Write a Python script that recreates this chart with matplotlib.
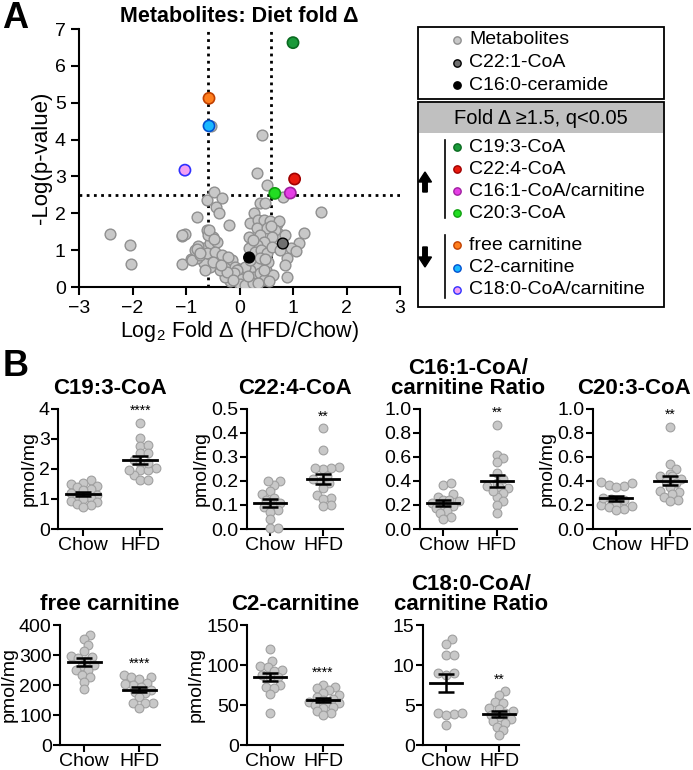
import matplotlib
matplotlib.use('Agg')
import matplotlib.pyplot as plt
import numpy as np
from matplotlib.patches import Rectangle, FancyArrow

plt.rcParams['font.family'] = ['Liberation Sans', 'DejaVu Sans']
plt.rcParams['mathtext.fontset'] = 'custom'
plt.rcParams['mathtext.rm'] = 'Liberation Sans'
plt.rcParams['axes.linewidth'] = 1.5

# ---------------- DATA ----------------
# volcano: background metabolites (log2 fold, -log p)
gray_x = [-2.42, -2.04, -2.02, -1.08, -1.02, -1.07, -0.90, -0.79, -0.60, -0.48,
          -0.33, -0.43, -0.38, -0.20, 0.42, 0.32, 0.52, 0.38, 0.47, 0.27,
          0.81, 1.52, 1.21, 1.12, 0.97, 1.05, 0.88, 0.85, 0.88, 0.70,
          0.74, 0.85, -0.53,
          0.45, 0.32, 0.20, 0.07, -0.05, 0.13, 0.28, 0.38, 0.50, 0.63,
          0.45, 0.20, 0.01, -0.18, -0.27, -0.36, -0.24, -0.14, -0.30, -0.42,
          -0.55, -0.67, -0.80, -0.89, -0.83, -0.67, -0.55, -0.49, -0.61, -0.58,
          -0.42, -0.74, -0.61, -0.46, -0.33, -0.21, -0.09, 0.01, 0.10, -1.08,
          0.20, 0.35, 0.45, 0.57, 0.73, 0.32, 0.51, 0.66, 0.17, 0.38,
          0.60, 0.45, 0.32, 0.17, 0.29, 0.41, 0.51, 0.60, 0.76, 0.20,
          0.38, 0.54, 0.26, 0.45, -0.05, -0.11, 0.04, -0.24, -0.49, -0.77,
          -0.57, -0.48, -0.79, -0.73, 0.00, 0.10, 0.25, 0.35, -0.12, 0.55,
          -0.65, -0.35, 0.15, 0.48, 0.58]
gray_y = [1.45, 1.13, 0.63, 1.39, 1.45, 0.63, 0.77, 1.90, 2.37, 2.58,
          2.41, 2.18, 2.00, 1.68, 4.12, 3.09, 2.77, 2.28, 2.28, 2.02,
          2.43, 2.04, 1.46, 1.19, 1.05, 0.97, 0.78, 0.60, 0.28, 1.72,
          1.45, 1.41, 4.37,
          0.64, 0.55, 0.46, 0.37, 0.28, 0.19, 0.28, 0.37, 0.46, 0.33,
          0.19, 0.10, 0.05, 0.15, 0.28, 0.46, 0.64, 0.73, 0.78, 0.64,
          0.55, 0.64, 0.78, 0.73, 1.00, 1.05, 1.19, 1.37, 1.55, 1.41,
          1.23, 0.87, 0.92, 0.96, 0.87, 0.82, 0.55, 0.50, 0.55, 1.41,
          1.73, 1.82, 1.82, 1.78, 1.78, 1.59, 1.59, 1.55, 1.37, 1.41,
          1.37, 1.23, 1.14, 1.05, 0.96, 1.00, 0.92, 1.09, 1.00, 0.73,
          0.78, 0.69, 1.28, 0.46, 0.46, 0.37, 0.23, 0.42, 0.69, 1.10,
          1.54, 1.31, 1.04, 0.91, 0.08, 0.05, 0.10, 0.12, 0.20, 0.15,
          0.45, 0.60, 0.30, 0.75, 1.65]

# reference metabolites
ref_names = ['C22:1-CoA', 'C16:0-ceramide']
ref_x = [0.81, 0.18]
ref_y = [1.18, 0.80]

# significant hits
up_names = ['C19:3-CoA', 'C22:4-CoA', 'C16:1-CoA/carnitine', 'C20:3-CoA']
up_x = [1.00, 1.03, 0.95, 0.66]
up_y = [6.63, 2.93, 2.55, 2.54]
down_names = ['free carnitine', 'C2-carnitine', 'C18:0-CoA/carnitine']
down_x = [-0.57, -0.57, -1.02]
down_y = [5.12, 4.37, 3.17]

fc_cut = np.log2(1.5)
p_cut = 2.5

# panel B: individual values (Chow, HFD)
c193_chow = [1.62, 1.55, 1.50, 1.45, 1.40, 1.35, 1.30, 1.20, 1.15, 1.10, 1.05, 1.00, 0.95, 0.90, 0.85, 0.80, 0.75]
c193_hfd = [3.55, 3.02, 2.78, 2.80, 2.52, 2.30, 2.52, 2.19, 2.02, 1.97, 1.80, 1.97, 1.63, 1.63, 1.97, 2.19]
c224_chow = [0.20, 0.185, 0.20, 0.16, 0.145, 0.13, 0.12, 0.11, 0.10, 0.09, 0.08, 0.07, 0.04, 0.005, 0.005]
c224_hfd = [0.42, 0.33, 0.26, 0.255, 0.25, 0.255, 0.20, 0.19, 0.17, 0.14, 0.13, 0.125, 0.10, 0.095, 0.22, 0.21]
c161_chow = [0.37, 0.38, 0.29, 0.27, 0.24, 0.23, 0.24, 0.22, 0.20, 0.19, 0.175, 0.15, 0.13, 0.10, 0.08]
c161_hfd = [0.87, 0.62, 0.59, 0.56, 0.47, 0.42, 0.38, 0.36, 0.35, 0.34, 0.30, 0.27, 0.23, 0.20, 0.13, 0.32]
c203_chow = [0.39, 0.37, 0.36, 0.38, 0.35, 0.21, 0.20, 0.26, 0.25, 0.24, 0.22, 0.20, 0.19, 0.18, 0.17, 0.16]
c203_hfd = [0.85, 0.54, 0.50, 0.46, 0.44, 0.44, 0.42, 0.40, 0.38, 0.35, 0.32, 0.31, 0.29, 0.27, 0.24, 0.23]
fcarn_chow = [367, 352, 333, 314, 297, 294, 289, 280, 267, 262, 250, 250, 233, 228, 211, 187]
fcarn_hfd = [232, 228, 219, 228, 208, 200, 203, 194, 183, 178, 172, 160, 139, 139, 139, 122]
c2_chow = [120, 105, 99, 98, 94, 92, 88, 85, 85, 75, 73, 71, 64, 40]
c2_hfd = [75, 73, 71, 69, 65, 62, 60, 58, 56, 54, 53, 52, 50, 48, 46, 42, 40, 37]
c180_chow = [13.2, 12.6, 11.2, 11.3, 9.0, 8.8, 9.0, 4.0, 3.9, 3.8, 4.0, 2.5]
c180_hfd = [6.7, 6.2, 5.4, 5.2, 4.6, 4.5, 4.2, 4.0, 3.8, 3.5, 3.3, 3.0, 2.7, 2.3, 1.9, 1.2]

groups = ['Chow', 'HFD']

# ---------------- FIGURE ----------------
W, H = 693, 770
fig = plt.figure(figsize=(W / 100, H / 100), dpi=100)


def px_axes(l, t, r, b):
    return fig.add_axes([l / W, 1 - b / H, (r - l) / W, (b - t) / H])


# PANEL A: volcano
ax = px_axes(79, 29, 400, 287)
ax.scatter(gray_x, gray_y, s=60, c='#c8c8c8', edgecolors='#8f8f8f', linewidths=1.0, zorder=3)
ax.scatter(ref_x, ref_y, s=60, c=['#707070', '#000000'], edgecolors='#000000', linewidths=1.0, zorder=4)
up_cols = ['#1a9a3a', '#e8190e', '#e63fe6', '#22dd22']
up_edges = ['#0a6a20', '#a00000', '#a020a0', '#10a010']
down_cols = ['#ff7f1e', '#1ab8ff', '#f2a0f2']
down_edges = ['#c04000', '#0050d0', '#3030ff']
ax.scatter(up_x, up_y, s=65, c=up_cols, edgecolors=up_edges, linewidths=1.2, zorder=5)
ax.scatter(down_x, down_y, s=65, c=down_cols, edgecolors=down_edges, linewidths=1.2, zorder=5)
for xv in (-fc_cut, fc_cut):
    ax.axvline(xv, color='black', ls=(0, (1, 1.6)), lw=2, zorder=2)
ax.axhline(p_cut, color='black', ls=(0, (1, 1.6)), lw=2, zorder=2)
ax.set_xlim(-3, 3)
ax.set_ylim(0, 7)
ax.set_xticks(range(-3, 4))
ax.set_yticks(range(0, 8))
ax.spines[['top', 'right']].set_visible(False)
ax.tick_params(labelsize=14, width=1.5, length=6)
ax.set_ylabel('-Log(p-value)', fontsize=16, labelpad=2)
ax.set_xlabel(r'Log$_\mathregular{2}$ Fold Δ (HFD/Chow)', fontsize=15.5, labelpad=1)
ax.set_title('Metabolites: Diet fold Δ', fontsize=15.5, fontweight='bold', pad=5)


# PANEL B: dot plots
def swarm(vals, ppu_y, ppu_x, d, maxoff):
    vals = np.asarray(vals, float)
    offs = np.zeros(len(vals))
    placed = []
    for i in np.argsort(vals):
        y = vals[i] * ppu_y
        cx = 0.0
        for k in range(60):
            cands = [0.0] if k == 0 else [k * d * 0.3, -k * d * 0.3]
            done = False
            for c in cands:
                if abs(c) > maxoff:
                    continue
                if all((c - px) ** 2 + (y - py) ** 2 >= d * d for px, py in placed):
                    cx = c
                    done = True
                    break
            if done or k * d * 0.3 > maxoff:
                break
        placed.append((cx, y))
        offs[i] = cx / ppu_x
    return offs


panels = [
    (c193_chow, c193_hfd, ['C19:3-CoA'], (0, 4), np.arange(0, 5, 1), '%d', True, '****', (58, 409, 162, 529), 0.5),
    (c224_chow, c224_hfd, ['C22:4-CoA'], (0, 0.5), np.arange(0, 0.51, 0.1), '%.1f', True, '**', (247, 409, 343, 529), 0.5),
    (c161_chow, c161_hfd, ['C16:1-CoA/', 'carnitine Ratio'], (0, 1.0), np.arange(0, 1.01, 0.2), '%.1f', False, '**', (420, 409, 517, 529), 0.5),
    (c203_chow, c203_hfd, ['C20:3-CoA'], (0, 1.0), np.arange(0, 1.01, 0.2), '%.1f', True, '**', (593, 409, 690, 529), 0.42),
    (fcarn_chow, fcarn_hfd, ['free carnitine'], (0, 400), np.arange(0, 401, 100), '%d', True, '****', (60, 625, 160, 745), 0.5),
    (c2_chow, c2_hfd, ['C2-carnitine'], (0, 150), np.arange(0, 151, 50), '%d', True, '****', (247, 625, 343, 745), 0.5),
    (c180_chow, c180_hfd, ['C18:0-CoA/', 'carnitine Ratio'], (0, 15), np.arange(0, 16, 5), '%d', False, '**', (423, 625, 519, 745), 0.5),
]

xl = (-0.44, 1.38)
for chow, hfd, title, ylim, yt, fmt, ylab, stars, (l, t, r, b), tx in panels:
    a = px_axes(l, t, r, b)
    ppu_y = (b - t) / (ylim[1] - ylim[0])
    ppu_x = (r - l) / (xl[1] - xl[0])
    for gi, vals in enumerate((chow, hfd)):
        vals = np.asarray(vals, float)
        xs = gi + swarm(vals, ppu_y, ppu_x, 6.5, 0.3 * ppu_x)
        a.scatter(xs, vals, s=40, c='#c8c8c8', edgecolors='#a0a0a0', linewidths=0.8, zorder=3, clip_on=False)
        m = vals.mean()
        se = vals.std(ddof=1) / np.sqrt(len(vals))
        a.plot([gi - 0.3, gi + 0.3], [m, m], color='black', lw=2, zorder=5)
        a.errorbar([gi], [m], yerr=[se], color='black', lw=1.8, capsize=6, capthick=1.8, zorder=5)
        if gi == 1:
            a.text(gi, max(vals) + (ylim[1] - ylim[0]) * 0.04, stars, ha='center', va='bottom', fontsize=10)
    a.set_xlim(*xl)
    a.set_ylim(*ylim)
    a.set_yticks(yt)
    a.set_yticklabels([fmt % v for v in yt])
    a.set_xticks([0, 1])
    a.set_xticklabels(groups)
    a.spines[['top', 'right']].set_visible(False)
    a.tick_params(labelsize=14, width=1.5, length=5, pad=1)
    if ylab:
        a.set_ylabel('pmol/mg', fontsize=14, labelpad=1)
    a.set_title('\n'.join(title), fontsize=16, fontweight='bold', pad=11, linespacing=0.95, x=tx)

# legend drawn in pixel space
lg = fig.add_axes([0, 0, 1, 1], facecolor='none')
lg.set_xlim(0, W)
lg.set_ylim(H, 0)
lg.axis('off')
lg.add_patch(Rectangle((418, 27), 246, 72, fill=False, lw=1.3, ec='black'))
lg.add_patch(Rectangle((418, 102), 246, 205, fill=False, lw=1.3, ec='black'))
lg.add_patch(Rectangle((419, 103), 244, 30, fc='#c0c0c0', ec='none'))
lg.text(541, 118, 'Fold Δ ≥1.5, q<0.05', ha='center', va='center', fontsize=14.5)

leg_rows = [(['Metabolites'] + ref_names, ['#c8c8c8', '#707070', '#000000'], ['#8f8f8f', '#000000', '#000000'], 40, 22.5),
            (up_names, up_cols, up_edges, 147, 22),
            (down_names, down_cols, down_edges, 245, 22.5)]
for names, cols, edges, y0, dy in leg_rows:
    for i, (nm, fc, ec) in enumerate(zip(names, cols, edges)):
        yy = y0 + i * dy
        lg.scatter([457], [yy], s=28, c=fc, edgecolors=ec, linewidths=1.0)
        lg.text(469, yy, nm, ha='left', va='center', fontsize=14)
lg.plot([445, 445], [140, 218], color='black', lw=1.2)
lg.plot([445, 445], [235, 298], color='black', lw=1.2)
lg.add_patch(FancyArrow(425, 192, 0, -20, width=4.5, head_width=13, head_length=10, length_includes_head=True, color='black'))
lg.add_patch(FancyArrow(425, 247, 0, 20, width=4.5, head_width=13, head_length=10, length_includes_head=True, color='black'))

fig.text(2 / W, 1 - 1 / H, 'A', fontsize=26, fontweight='bold', va='top', ha='left')
fig.text(3 / W, 1 - 367 / H, 'B', fontsize=26, fontweight='bold', va='center', ha='left')

fig.savefig('out.png', dpi=100)
